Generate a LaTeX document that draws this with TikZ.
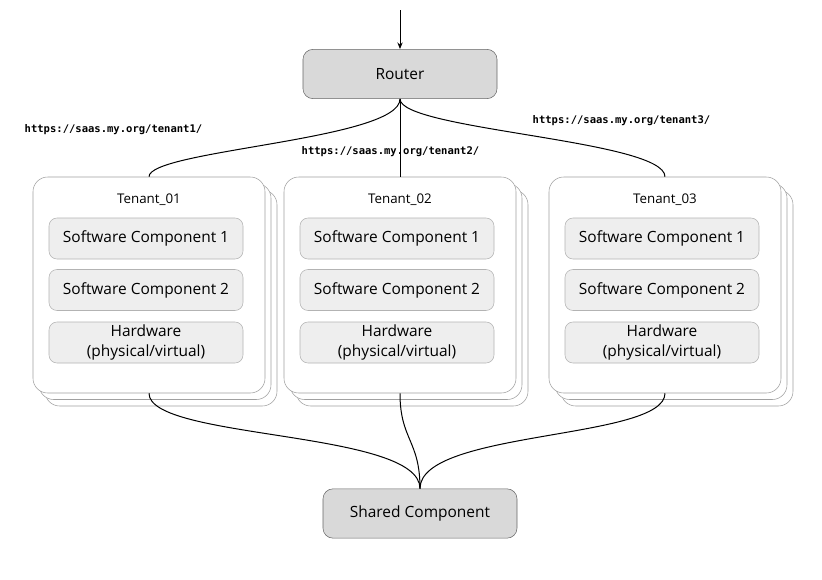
\documentclass[tikz,border=0pt]{standalone}
\usepackage{fontspec}
\setmainfont{Open Sans}
\setmonofont{DejaVu Sans Mono}
\usepackage{tikz}
\usetikzlibrary{arrows.meta}

\begin{document}
\begin{tikzpicture}[x=0.75pt,y=0.75pt,yscale=-1,xscale=1,
  graybox/.style={draw={rgb,255:red,102;green,102;blue,102},fill={rgb,255:red,217;green,217;blue,217},rounded corners=7.5pt,minimum width=145.5pt,minimum height=37pt,inner sep=0pt,font=\fontsize{11.6}{13}\selectfont},
  tenantbox/.style={draw={rgb,255:red,160;green,160;blue,160},fill=white,rounded corners=11pt,minimum width=174pt,minimum height=162pt,inner sep=0pt},
  compbox/.style={draw={rgb,255:red,179;green,179;blue,179},fill={rgb,255:red,238;green,238;blue,238},rounded corners=6pt,minimum width=145.5pt,minimum height=30.75pt,inner sep=0pt,align=center,font=\fontsize{11.6}{14.5}\selectfont},
  urltext/.style={font=\ttfamily\bfseries\fontsize{7.9}{9}\selectfont,inner sep=0pt},
  link/.style={line width=0.75pt}]
%set diagram size
\useasboundingbox (0,0) rectangle (822,579);

%Router
\node [graybox] (router) at (400,74) {Router};
\coordinate (entry) at (400,10);
\draw [link,-{Stealth[length=5pt,width=4pt]}] (entry) -- (router);

%Tenant stacks
\foreach \cx/\nr in {149/1,400/2,665/3}{
  \node [tenantbox] at (\cx+12,298) {};
  \node [tenantbox] at (\cx+6,291.5) {};
  \node [tenantbox] (tenant\nr) at (\cx,285) {};
  \node [font=\fontsize{10}{12}\selectfont] (label\nr) at (\cx,200) {Tenant\_0\nr};
  \node [compbox] (swa\nr) at (\cx-3,238.5) {Software Component 1};
  \node [compbox] (swb\nr) at (\cx-3,290) {Software Component 2};
  \node [compbox] (hw\nr) at (\cx-3,342.5) {Hardware\\(physical/virtual)};
}

%Shared Component
\node [graybox] (shared) at (420,513.5) {Shared Component};

%Router to tenants
\draw [link] (router.south) .. controls (400,140) and (149,150) .. (tenant1.north);
\draw [link] (router.south) -- (tenant2.north);
\draw [link] (router.south) .. controls (400,130) and (665,140) .. (tenant3.north);

%Tenants to shared component
\draw [link] (tenant1.south) .. controls (149,440) and (420,430) .. (shared.north);
\draw [link] (tenant2.south) .. controls (400,440) and (420,440) .. (shared.north);
\draw [link] (tenant3.south) .. controls (665,440) and (420,430) .. (shared.north);

% URL labels
\node [urltext] (url1) at (113.5,130) {https://saas.my.org/tenant1/};
\node [urltext] (url2) at (390.5,152) {https://saas.my.org/tenant2/};
\node [urltext] (url3) at (621.5,121) {https://saas.my.org/tenant3/};

\end{tikzpicture}
\end{document}
